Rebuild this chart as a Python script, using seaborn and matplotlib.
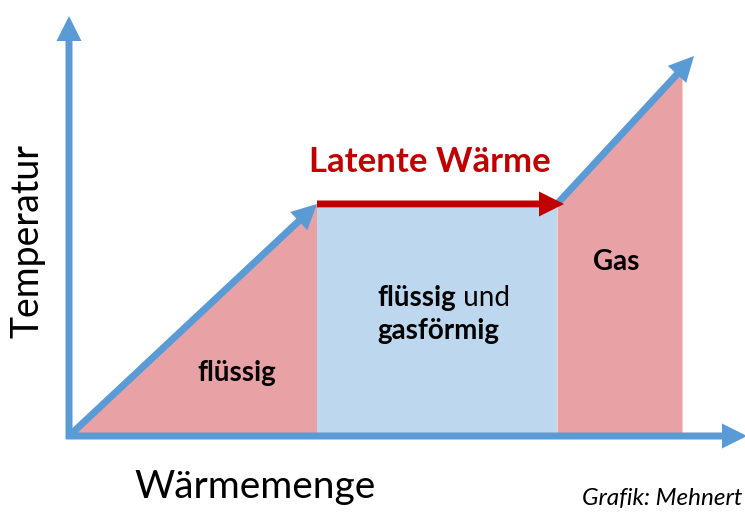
import matplotlib
matplotlib.use("Agg")
import matplotlib.pyplot as plt
import seaborn as sns
import numpy as np

# Phase curve: heat added (Wärmemenge) vs. temperature, arbitrary units
heat = [0.0, 2.48, 4.90, 6.25]
temp = [0.0, 2.32, 2.32, 3.80]
# phase boundaries (start/end of each region)
phase_edges = [0.0, 2.48, 4.88, 6.13]
phase_names = ["flüssig", "flüssig und gasförmig", "Gas"]

BLUE = "#5B9BD5"
RED = "#C00000"
PINK = "#E8A2A6"
LIGHTBLUE = "#BDD7EE"

sns.set_theme(style="white")
plt.rcParams["font.family"] = ["Lato", "DejaVu Sans"]

fig = plt.figure(figsize=(7.45, 5.13), dpi=100)
ax = fig.add_axes([0, 0, 1, 1])
ax.set_xlim(-0.69, 6.76)
ax.set_ylim(-0.77, 4.36)
ax.axis("off")


def curve_at(x):
    return np.interp(x, heat, temp)


# filled regions
x1 = np.linspace(phase_edges[0], phase_edges[1], 50)
ax.fill_between(x1, 0, curve_at(x1), color=PINK, lw=0)
ax.fill_between([phase_edges[1], phase_edges[2]], 0, temp[1] - 0.04,
                color=LIGHTBLUE, lw=0)
x3 = np.linspace(phase_edges[2], phase_edges[3], 50)
ax.fill_between(x3, 0, curve_at(x3), color=PINK, lw=0)

# axes arrows
arrow_kw = dict(width=0.07, head_width=0.25, head_length=0.25,
                length_includes_head=True, lw=0)
ax.arrow(0, -0.03, 0, 4.23, color=BLUE, **arrow_kw)
ax.arrow(-0.03, 0, 6.81, 0, color=BLUE, **arrow_kw)

# phase curve
ax.arrow(heat[0], temp[0], heat[1] - heat[0], temp[1] - temp[0],
         color=BLUE, **arrow_kw)
ax.arrow(heat[2] - 0.02, temp[2], heat[3] - heat[2] + 0.02, temp[3] - temp[2],
         color=BLUE, **arrow_kw)
ax.arrow(heat[1], temp[1], heat[2] + 0.05 - heat[1], 0,
         color=RED, **arrow_kw)

# labels
ax.text(-0.41, 1.95, "Temperatur", rotation=90, fontsize=27,
        ha="center", va="center", color="black")
ax.text(1.86, -0.51, "Wärmemenge", fontsize=28,
        ha="center", va="center", color="black")
ax.text(3.61, 2.74, "Latente Wärme", fontsize=25, fontweight="bold",
        ha="center", va="center", color=RED)

ax.text(1.68, 0.63, phase_names[0], fontsize=20, fontweight="bold",
        ha="center", va="center", color="black")
t = ax.text(3.08, 1.38, "flüssig", fontsize=20, fontweight="bold",
            ha="left", va="center", color="black")
ax.annotate(" und", xy=(1, 0), xycoords=t, fontsize=20,
            ha="left", va="bottom", color="black")
ax.text(3.08, 1.05, "gasförmig", fontsize=20, fontweight="bold",
        ha="left", va="center", color="black")
ax.text(5.47, 1.74, phase_names[2], fontsize=20, fontweight="bold",
        ha="center", va="center", color="black")

ax.text(6.73, -0.62, "Grafik: Mehnert", fontsize=17.5, fontstyle="italic",
        ha="right", va="center", color="black")

fig.savefig("out.png", dpi=100)
